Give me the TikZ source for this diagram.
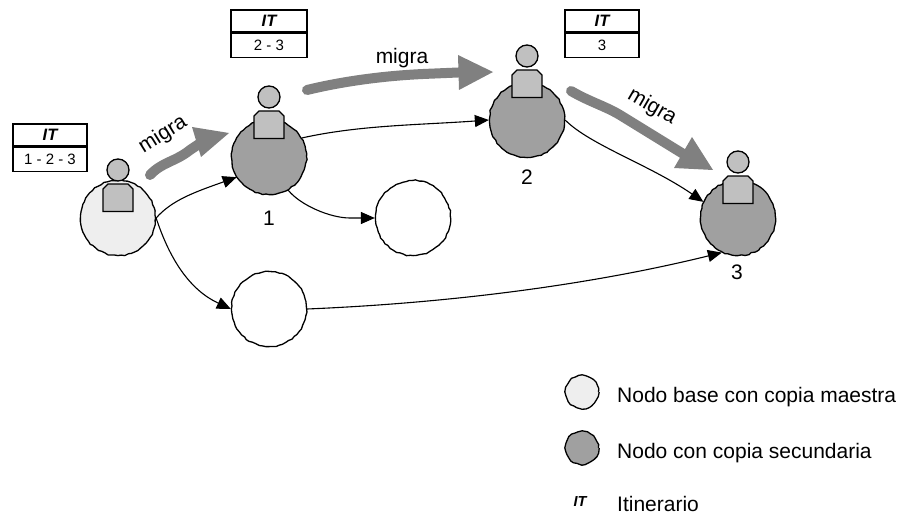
\documentclass[tikz,border=0pt]{standalone}
\usepackage{fontspec}
\setmainfont{Liberation Sans}
\usetikzlibrary{arrows.meta,decorations.pathmorphing}
\definecolor{basefill}{HTML}{EEEEEE}
\definecolor{secfill}{HTML}{A0A0A0}
\definecolor{bodyfill}{HTML}{C0C0C0}
\definecolor{migcol}{HTML}{808080}
\tikzset{
  rough/.style={decorate,decoration={random steps,segment length=3.5pt,amplitude=0.6pt}},
  nodecirc/.style={circle,draw=black,line width=1.3pt,minimum size=75pt,inner sep=0pt,rough},
  basenode/.style={nodecirc,fill=basefill},
  secnode/.style={nodecirc,fill=secfill},
  freenode/.style={nodecirc,fill=white},
  legbase/.style={basenode,minimum size=33pt},
  legsec/.style={secnode,minimum size=33pt},
  headcirc/.style={circle,draw=black,line width=1.3pt,fill=bodyfill,minimum size=22pt,inner sep=0pt},
  bodyshape/.style={draw=black,line width=1.3pt,fill=bodyfill,line join=miter},
  ithead/.style={rectangle,draw=black,line width=1.2pt,fill=white,minimum height=22pt,font=\fontsize{16.5}{16.5}\selectfont\bfseries\itshape,inner sep=0pt},
  itbody/.style={rectangle,draw=black,line width=1.2pt,fill=white,minimum height=24pt,font=\fontsize{15}{15}\selectfont,inner sep=0pt},
  conn/.style={line width=1.1pt,-{Triangle[length=14pt,width=12pt]}},
  migshaft/.style={line width=10pt,draw=migcol,line cap=round,line join=round},
  mighead/.style={fill=migcol},
  lab/.style={font=\fontsize{21}{21}\selectfont,inner sep=0pt},
  leg/.style={font=\fontsize{21}{21}\selectfont,inner sep=0pt,anchor=west},
}
\newcommand{\person}[3]{%
  \draw[bodyshape] (#2-15,#3+41.5) -- (#2-15,#3+19) -- (#2-10,#3+14) -- (#2+10,#3+14) -- (#2+15,#3+19) -- (#2+15,#3+41.5) -- cycle;
  \node[headcirc] (#1h) at (#2,#3) {};
}
\newcommand{\ittable}[5]{%
  \node[ithead,minimum width=#5pt] (#1a) at (#2,#3) {IT};
  \node[itbody,minimum width=#5pt,anchor=north] (#1c) at (#1a.south) {#4};
}
\begin{document}
\begin{tikzpicture}[x=1pt,y=-1pt]
\useasboundingbox (0,0) rectangle (901,513);
% nodes
\node[basenode] (a) at (118,218) {};
\node[secnode] (n1) at (269,157) {};
\node[secnode] (n2) at (527,120) {};
\node[secnode] (n3) at (738,218) {};
\node[freenode] (f1) at (413,218) {};
\node[freenode] (f2) at (269,309) {};
% connectors
\draw[conn] (a.east) .. controls (172,200) and (195,192) .. (n1.212);
\draw[conn] (a.east) .. controls (170,260) and (190,290) .. (f2.west);
\coordinate (fbend) at (350,218);
\draw[conn] (n1.-60) .. controls (300,205) and (330,218) .. (fbend) -- (f1.west);
\draw[conn] (n1.30) .. controls (360,125) and (420,125) .. (n2.west);
\draw[conn] (n2.east) .. controls (590,145) and (650,165) .. (n3.155);
\draw[conn] (f2.east) .. controls (450,303) and (590,285) .. (n3.245);
% persons
\person{pa}{118}{170}
\person{pb}{269}{97}
\person{pc}{527}{56}
\person{pd}{738}{162}
% tables
\ittable{ta}{50}{135}{1 - 2 - 3}{74}
\ittable{tb}{269}{21}{2 - 3}{76}
\ittable{tc}{602}{21}{3}{74}
% migration arrows
\coordinate (m1s) at (150,175);
\coordinate (m1e) at (229,133);
\coordinate (m2s) at (307,90);
\coordinate (m2e) at (493,72);
\coordinate (m3s) at (571,91);
\coordinate (m3e) at (713,170);
\draw[migshaft] (m1s) .. controls (162,162) and (175,162) .. (190,150) -- (205,140);
\fill[mighead] (m1e) -- (192,127) -- (201,157) -- cycle;
\draw[migshaft] (m2s) .. controls (340,82) and (380,76) .. (423,74) -- (470,72);
\fill[mighead] (m2e) -- (458,55) -- (459,90) -- cycle;
\draw[migshaft] (m3s) .. controls (590,102) and (605,106) .. (620,115) -- (685,155);
\fill[mighead] (m3e) -- (674,168) -- (692,137) -- cycle;
\node[lab,rotate=32] (l1) at (163,135) {migra};
\node[lab] (l2) at (402,58) {migra};
\node[lab,rotate=-30] (l3) at (652,107) {migra};
\node[lab] (d1) at (269,218) {1};
\node[lab] (d2) at (527,177) {2};
\node[lab] (d3) at (737,272) {3};
% legend
\node[legbase] (k1) at (582,392) {};
\node[legsec] (k2) at (582,448) {};
\node[font=\fontsize{14.5}{14.5}\selectfont\bfseries\itshape,inner sep=0pt] (k3) at (580,502) {IT};
\node[leg] (t1) at (617,397) {Nodo base con copia maestra};
\node[leg] (t2) at (617,453) {Nodo con copia secundaria};
\node[leg] (t3) at (617,503.5) {Itinerario};
\end{tikzpicture}
\end{document}
